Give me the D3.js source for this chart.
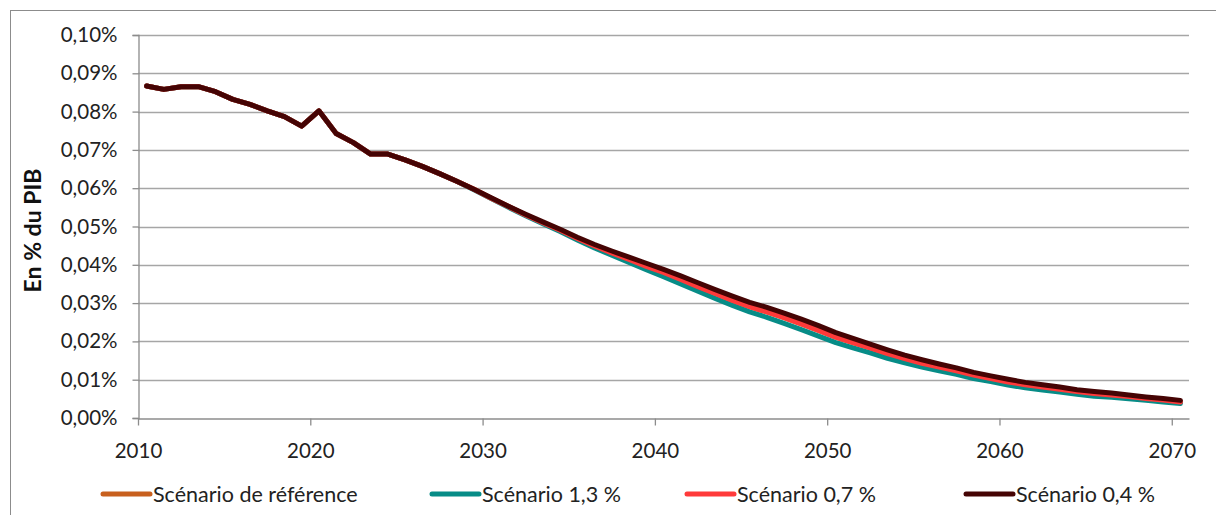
<!DOCTYPE html>
<html><head><meta charset="utf-8">
<script src="https://cdn.jsdelivr.net/npm/d3@7"></script>
<style>
html,body{margin:0;padding:0;background:#fff;}
svg{display:block;font-family:Lato,"Open Sans",sans-serif;}
</style></head>
<body>
<svg id="chart" width="1216" height="515"></svg>
<script>
// ---- data (values in % of GDP) ----
const years = d3.range(2010, 2071);
const seriesNames = ["Scénario de référence", "Scénario 1,3 %", "Scénario 0,7 %", "Scénario 0,4 %"];
const seriesColors = ["#c8601e", "#078c87", "#ff3a3a", "#450404"];
const common = [0.0867,0.0858,0.0865,0.0865,0.0852,0.0832,0.0819,0.0802,0.0787,0.0762,
  0.0802,0.0743,0.0719,0.0689,0.0689,0.0674,0.0657,0.0638,0.0618];
const s04 = common.concat([0.0597,
  0.0575,0.0553,0.0532,0.0512,0.0493,0.0472,0.0453,0.0436,0.0420,0.0404,
  0.0388,0.0371,0.0353,0.0335,0.0318,0.0302,0.0289,0.0274,0.0258,0.0241,
  0.0223,0.0208,0.0193,0.0178,0.0164,0.0152,0.0141,0.0131,0.0119,0.0110,
  0.0101,0.0093,0.0087,0.0081,0.0074,0.0069,0.0065,0.0060,0.0055,0.0051,
  0.0046]);
const s07 = common.concat([0.0597,
  0.0574,0.0552,0.0530,0.0510,0.0490,0.0469,0.0449,0.0431,0.0414,0.0396,
  0.0380,0.0362,0.0343,0.0325,0.0307,0.0291,0.0277,0.0262,0.0246,0.0229,
  0.0211,0.0197,0.0183,0.0168,0.0155,0.0143,0.0133,0.0123,0.0112,0.0103,
  0.0094,0.0087,0.0081,0.0075,0.0069,0.0064,0.0060,0.0056,0.0051,0.0047,
  0.0042]);
const s13 = common.concat([0.0596,
  0.0573,0.0550,0.0528,0.0507,0.0487,0.0465,0.0444,0.0425,0.0406,0.0387,
  0.0369,0.0350,0.0331,0.0312,0.0294,0.0277,0.0263,0.0247,0.0231,0.0214,
  0.0197,0.0183,0.0170,0.0156,0.0144,0.0133,0.0123,0.0114,0.0103,0.0095,
  0.0086,0.0079,0.0073,0.0068,0.0062,0.0057,0.0054,0.0050,0.0046,0.0042,
  0.0038]);
const sRef = common.concat([0.0597,
  0.0574,0.0552,0.0530,0.0510,0.0490,0.0469,0.0449,0.0431,0.0414,0.0396,
  0.0380,0.0362,0.0343,0.0325,0.0307,0.0291,0.0277,0.0262,0.0246,0.0229,
  0.0211,0.0197,0.0183,0.0168,0.0155,0.0143,0.0133,0.0123,0.0112,0.0103,
  0.0094,0.0087,0.0081,0.0075,0.0069,0.0064,0.0060,0.0056,0.0051,0.0047,
  0.0042]);
const seriesValues = [sRef, s13, s07, s04];
const yTicks = [0,0.01,0.02,0.03,0.04,0.05,0.06,0.07,0.08,0.09,0.10];
const xTicks = [2010,2020,2030,2040,2050,2060,2070];
const yTitle = "En % du PIB";

// ---- layout ----
const svg = d3.select("#chart");
const L = 138, R = 1189, T = 35, B = 418;
const x = d3.scaleLinear().domain([2010, 2071]).range([L, R]);
const y = d3.scaleLinear().domain([0, 0.10]).range([B, T]);
const fmt = v => d3.format(".2f")(v).replace(".", ",") + "%";

// outer chart border
svg.append("rect").attr("x", 10.5).attr("y", 10.5).attr("width", 1240).attr("height", 540)
  .attr("fill", "none").attr("stroke", "#8c8c8c").attr("stroke-width", 1);

// gridlines
svg.append("g").selectAll("line").data(yTicks.filter(d => d > 0)).join("line")
  .attr("x1", L).attr("x2", R)
  .attr("y1", d => Math.round(y(d)) + 0.5).attr("y2", d => Math.round(y(d)) + 0.5)
  .attr("stroke", "#a6a6a6").attr("stroke-width", 1.3);

// y axis
const yAxis = svg.append("g").attr("transform", `translate(${L + 0.5},0)`)
  .call(d3.axisLeft(y).tickValues(yTicks).tickFormat(fmt).tickSize(6).tickPadding(15));
yAxis.select(".domain").attr("stroke", "#8c8c8c").attr("stroke-width", 1.3);
yAxis.selectAll(".tick line").attr("stroke", "#8c8c8c").attr("stroke-width", 1.3);
yAxis.selectAll(".tick text").attr("font-size", 20.5).attr("fill", "#222")
  .attr("font-family", "Lato, sans-serif");

// x axis
const xAxis = svg.append("g").attr("transform", `translate(0,${B + 0.5})`)
  .call(d3.axisBottom(x).tickValues(xTicks).tickFormat(d3.format("d")).tickSize(7).tickPadding(18).tickSizeOuter(0));
xAxis.select(".domain").attr("stroke", "#8c8c8c").attr("stroke-width", 1.3);
xAxis.selectAll(".tick line").attr("stroke", "#8c8c8c").attr("stroke-width", 1.3);
xAxis.selectAll(".tick text").attr("font-size", 20.5).attr("fill", "#222")
  .attr("font-family", "Lato, sans-serif");

// y title
svg.append("text").attr("transform", `translate(41,${(T + B) / 2 + 4}) rotate(-90)`)
  .attr("text-anchor", "middle").attr("font-size", 23).attr("font-weight", "bold")
  .attr("fill", "#111").text(yTitle);

// lines
const line = d3.line().x((d, i) => x(years[i] + 0.5)).y(d => y(d));
svg.append("g").selectAll("path").data(seriesValues).join("path")
  .attr("d", d => line(d))
  .attr("fill", "none").attr("stroke", (d, i) => seriesColors[i])
  .attr("stroke-width", 5).attr("stroke-linejoin", "round").attr("stroke-linecap", "round");

// legend
const legX = [103, 432, 687, 966];
const legY = 494;
const leg = svg.append("g").selectAll("g").data(seriesNames).join("g")
  .attr("transform", (d, i) => `translate(${legX[i]},${legY})`);
leg.append("line").attr("x1", 0).attr("x2", 47).attr("y1", 0).attr("y2", 0)
  .attr("stroke", (d, i) => seriesColors[i]).attr("stroke-width", 5).attr("stroke-linecap", "round");
leg.append("text").attr("x", 50).attr("y", 0).attr("dy", "0.35em")
  .attr("font-size", 21.5).attr("fill", "#222").text(d => d);
</script>
</body></html>
